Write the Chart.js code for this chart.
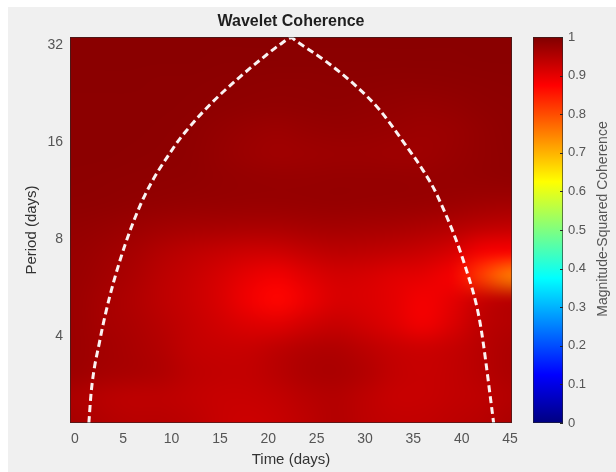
<!DOCTYPE html>
<html>
<head>
<meta charset="utf-8">
<script src="https://cdn.jsdelivr.net/npm/chart.js@4"></script>
<style>
  body { margin: 0; background: #ffffff; }
  #wrap { position: absolute; left: 8px; top: 7px; width: 608px; height: 465px; background: #f0f0f0; }
</style>
</head>
<body>
<div id="wrap"><canvas id="coherenceChart" width="608" height="465"></canvas></div>
<script>
// time (days) -- column centres of the coherence grid
const times = [0, 3, 6, 9, 12, 15, 18, 21, 24, 27, 30, 33, 36, 39, 42, 45];

// period (days) -- row centres, bottom row first
const periods = [2.18, 2.59, 3.08, 3.67, 4.36, 5.19, 6.17, 7.34, 8.72, 10.4, 12.3, 14.7, 17.4, 20.7, 24.7, 29.3, 34.9];

// magnitude-squared coherence, one row per period (bottom to top), one value per time
const coherence = [
  [0.960, 0.950, 0.945, 0.945, 0.940, 0.930, 0.925, 0.930, 0.940, 0.950, 0.940, 0.935, 0.935, 0.940, 0.945, 0.955],
  [0.955, 0.945, 0.940, 0.940, 0.935, 0.930, 0.930, 0.935, 0.945, 0.950, 0.940, 0.930, 0.930, 0.935, 0.940, 0.950],
  [0.970, 0.962, 0.958, 0.952, 0.940, 0.935, 0.935, 0.945, 0.955, 0.958, 0.950, 0.935, 0.930, 0.935, 0.945, 0.955],
  [0.972, 0.965, 0.958, 0.950, 0.935, 0.930, 0.930, 0.940, 0.950, 0.952, 0.942, 0.930, 0.925, 0.932, 0.945, 0.955],
  [0.972, 0.962, 0.955, 0.945, 0.932, 0.920, 0.908, 0.905, 0.920, 0.930, 0.920, 0.905, 0.888, 0.910, 0.940, 0.950],
  [0.972, 0.962, 0.952, 0.940, 0.928, 0.912, 0.888, 0.870, 0.893, 0.912, 0.910, 0.900, 0.885, 0.900, 0.930, 0.945],
  [0.974, 0.966, 0.956, 0.942, 0.930, 0.915, 0.898, 0.888, 0.905, 0.918, 0.915, 0.905, 0.900, 0.885, 0.815, 0.750],
  [0.976, 0.970, 0.962, 0.950, 0.940, 0.932, 0.925, 0.925, 0.935, 0.942, 0.940, 0.935, 0.928, 0.915, 0.885, 0.880],
  [0.980, 0.977, 0.972, 0.966, 0.962, 0.960, 0.958, 0.958, 0.962, 0.964, 0.962, 0.960, 0.955, 0.950, 0.940, 0.935],
  [0.985, 0.984, 0.982, 0.980, 0.978, 0.977, 0.976, 0.976, 0.977, 0.978, 0.977, 0.976, 0.975, 0.972, 0.968, 0.966],
  [0.987, 0.986, 0.985, 0.984, 0.983, 0.980, 0.978, 0.977, 0.977, 0.978, 0.978, 0.978, 0.977, 0.978, 0.980, 0.982],
  [0.988, 0.988, 0.987, 0.986, 0.984, 0.978, 0.972, 0.968, 0.970, 0.972, 0.972, 0.970, 0.970, 0.975, 0.980, 0.984],
  [0.988, 0.988, 0.988, 0.987, 0.985, 0.980, 0.975, 0.972, 0.976, 0.978, 0.977, 0.975, 0.972, 0.974, 0.980, 0.985],
  [0.988, 0.988, 0.988, 0.988, 0.987, 0.985, 0.983, 0.982, 0.983, 0.984, 0.982, 0.980, 0.978, 0.980, 0.984, 0.986],
  [0.989, 0.989, 0.989, 0.988, 0.988, 0.987, 0.986, 0.985, 0.985, 0.986, 0.986, 0.985, 0.985, 0.986, 0.987, 0.988],
  [0.990, 0.990, 0.990, 0.990, 0.990, 0.989, 0.989, 0.989, 0.989, 0.989, 0.989, 0.989, 0.989, 0.989, 0.990, 0.990],
  [0.990, 0.990, 0.990, 0.990, 0.990, 0.990, 0.990, 0.990, 0.990, 0.990, 0.990, 0.990, 0.990, 0.990, 0.990, 0.990]
];

// cone of influence (dashed white line)
const coiTime   = [1.45, 1.7, 2.6, 3.6, 5.2, 7.2, 10.2, 11.4, 14.0, 16.7, 19.8, 21.2, 22.4, 22.9, 26.0, 29.1, 31.5, 34.0, 36.0, 37.5, 40.5, 41.9, 43.1, 43.3];
const coiPeriod = [2.15, 2.7, 3.9, 5.3, 7.7, 10.9, 15.4, 17.2, 21.0, 25.0, 29.9, 32.2, 33.8, 33.0, 28.5, 23.9, 20.2, 16.0, 13.1, 10.9, 6.4, 4.4, 2.4, 2.15];

// tick labels
const timeTicks = [0, 5, 10, 15, 20, 25, 30, 35, 40, 45];
const periodTicks = [4, 8, 16, 32];
const colorbarTicks = [0, 0.1, 0.2, 0.3, 0.4, 0.5, 0.6, 0.7, 0.8, 0.9, 1];

// jet colormap
const jetStops = [[0, '#000080'], [0.125, '#0000ff'], [0.375, '#00ffff'], [0.625, '#ffff00'], [0.875, '#ff0000'], [1, '#800000']];
function jet(v) {
    const c = t => Math.round(255 * Math.max(0, Math.min(1, 1.5 - Math.abs(4 * v - t))));
    return [c(3), c(2), c(1)];
}

const fontFamily = '"Liberation Sans", Arial, Helvetica, sans-serif';
Chart.defaults.font.family = fontFamily;
Chart.defaults.color = '#555555';

// -- heatmap drawn under the datasets, cells placed through the x / y scales -- //
const heatmapPlugin = {
    id: 'heatmap',
    beforeDatasetsDraw(chart) {
        const { ctx, chartArea, scales: { x, y } } = chart;
        const nc = times.length, nr = periods.length;
        const off = document.createElement('canvas');
        off.width = nc;
        off.height = nr;
        const octx = off.getContext('2d');
        const img = octx.createImageData(nc, nr);
        for (let r = 0; r < nr; r++) {
            for (let c = 0; c < nc; c++) {
                const rgb = jet(coherence[r][c]);
                const i = ((nr - 1 - r) * nc + c) * 4;
                img.data[i] = rgb[0];
                img.data[i + 1] = rgb[1];
                img.data[i + 2] = rgb[2];
                img.data[i + 3] = 255;
            }
        }
        octx.putImageData(img, 0, 0);

        const dt = (times[nc - 1] - times[0]) / (nc - 1);
        const lp0 = Math.log2(periods[0]), lp1 = Math.log2(periods[nr - 1]);
        const dp = (lp1 - lp0) / (nr - 1);
        const x0 = x.getPixelForValue(times[0] - dt / 2);
        const x1 = x.getPixelForValue(times[nc - 1] + dt / 2);
        const yTop = y.getPixelForValue(lp1 + dp / 2);
        const yBot = y.getPixelForValue(lp0 - dp / 2);

        ctx.save();
        ctx.beginPath();
        ctx.rect(chartArea.left, chartArea.top, chartArea.right - chartArea.left, chartArea.bottom - chartArea.top);
        ctx.clip();
        ctx.imageSmoothingEnabled = true;
        ctx.imageSmoothingQuality = 'high';
        ctx.drawImage(off, x0, yTop, x1 - x0, yBot - yTop);
        ctx.restore();
    },
    afterDraw(chart) {
        const { ctx, chartArea, scales: { y2 } } = chart;
        // axes box
        ctx.save();
        ctx.strokeStyle = 'rgba(38,38,38,0.6)';
        ctx.lineWidth = 1;
        ctx.strokeRect(chartArea.left + 0.5, chartArea.top + 0.5, chartArea.right - chartArea.left - 1, chartArea.bottom - chartArea.top - 1);

        // colorbar
        const top = y2.getPixelForValue(1), bot = y2.getPixelForValue(0);
        const bx = chartArea.right + 21, bw = 30;
        const g = ctx.createLinearGradient(0, bot, 0, top);
        jetStops.forEach(s => g.addColorStop(s[0], s[1]));
        ctx.fillStyle = g;
        ctx.fillRect(bx, top, bw, bot - top);
        ctx.strokeRect(bx + 0.5, top + 0.5, bw - 1, bot - top - 1);
        ctx.strokeStyle = '#262626';
        ctx.beginPath();
        colorbarTicks.forEach(v => {
            const py = Math.round(y2.getPixelForValue(v)) + 0.5;
            ctx.moveTo(bx + bw - 3, py);
            ctx.lineTo(bx + bw, py);
        });
        ctx.stroke();

        // colorbar label, reading bottom to top
        ctx.translate(chartArea.right + 91, (top + bot) / 2 - 11);
        ctx.rotate(-Math.PI / 2);
        ctx.fillStyle = '#555555';
        ctx.font = '14px ' + fontFamily;
        ctx.textAlign = 'center';
        ctx.textBaseline = 'middle';
        ctx.fillText('Magnitude-Squared Coherence', 0, 0);
        ctx.restore();
    }
};

const coiData = coiTime.map((t, i) => ({ x: t, y: Math.log2(coiPeriod[i]) }));

new Chart(document.getElementById('coherenceChart'), {
    type: 'line',
    data: {
        datasets: [{
            label: 'Cone of influence',
            data: coiData,
            borderColor: 'rgba(255,255,255,0.95)',
            borderWidth: 3,
            borderDash: [7, 4],
            pointRadius: 0,
            cubicInterpolationMode: 'monotone',
            fill: false
        }]
    },
    options: {
        responsive: false,
        animation: false,
        events: [],
        layout: { padding: 0 },
        plugins: {
            legend: { display: false },
            tooltip: { enabled: false },
            title: {
                display: true,
                text: 'Wavelet Coherence',
                fullSize: false,
                color: '#1f1f1f',
                font: { size: 16, weight: 'bold' },
                padding: { top: 5, bottom: 5.8 }
            }
        },
        scales: {
            x: {
                type: 'linear',
                min: -0.5,
                max: 45.2,
                grid: { display: false, drawTicks: false },
                border: { display: false },
                ticks: { font: { size: 14 }, padding: 8 },
                afterBuildTicks: s => { s.ticks = timeTicks.map(v => ({ value: v })); },
                afterFit: s => { s.height = 49; },
                title: {
                    display: true,
                    text: 'Time (days)',
                    color: '#333333',
                    font: { size: 15 },
                    padding: { top: 0, bottom: 3 }
                }
            },
            y: {
                type: 'linear',
                min: Math.log2(2.15),
                max: Math.log2(34),
                grid: { display: false, drawTicks: false },
                border: { display: false },
                ticks: {
                    font: { size: 14 },
                    padding: 7,
                    callback: v => String(Math.round(Math.pow(2, v)))
                },
                afterBuildTicks: s => { s.ticks = periodTicks.map(p => ({ value: Math.log2(p) })); },
                afterFit: s => { s.width = 62; },
                title: {
                    display: true,
                    text: 'Period (days)',
                    color: '#333333',
                    font: { size: 15 },
                    padding: { top: 15, bottom: 0 }
                }
            },
            y2: {
                type: 'linear',
                position: 'right',
                min: 0,
                max: 1,
                grid: { display: false, drawTicks: false },
                border: { display: false },
                ticks: { font: { size: 13 }, padding: 56, callback: v => String(v) },
                afterBuildTicks: s => { s.ticks = colorbarTicks.map(v => ({ value: v })); },
                afterFit: s => {
                    s.width = 104;
                    // keep the wide label offset from pushing the plot area down
                    s.paddingTop = 8;
                    s.paddingBottom = 8;
                }
            }
        }
    },
    plugins: [heatmapPlugin]
});
</script>
</body>
</html>
